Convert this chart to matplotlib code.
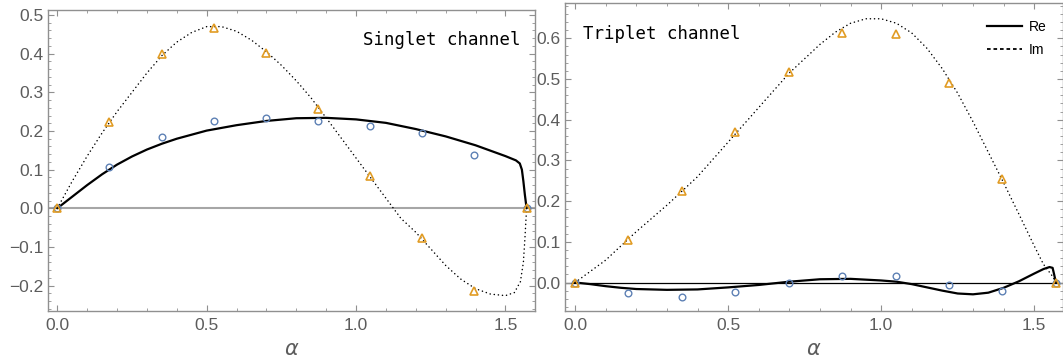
import matplotlib
matplotlib.use("Agg")
import matplotlib.pyplot as plt
from matplotlib.lines import Line2D
from matplotlib.ticker import MultipleLocator, FormatStrFormatter, FuncFormatter

# ==========================================
# data
# ==========================================
alpha_pts = [0.0, 0.1745, 0.3491, 0.5236, 0.6981, 0.8727, 1.0472, 1.2217, 1.3963, 1.5708]

# singlet channel: sample points
singlet_re_pts = [0.0, 0.106, 0.185, 0.226, 0.234, 0.226, 0.213, 0.195, 0.137, 0.0]
singlet_im_pts = [0.0, 0.224, 0.398, 0.467, 0.403, 0.256, 0.084, -0.077, -0.214, 0.0]

# singlet channel: curves
singlet_re_x = [0.0, 0.05, 0.1, 0.15, 0.2, 0.25, 0.3, 0.35, 0.4, 0.5, 0.6, 0.7, 0.8, 0.9,
                1.0, 1.1, 1.2, 1.3, 1.4, 1.5, 1.535, 1.548, 1.555, 1.56, 1.565, 1.5708]
singlet_re_y = [0.0, 0.030, 0.060, 0.088, 0.113, 0.134, 0.152, 0.167, 0.180, 0.201, 0.215, 0.226, 0.233, 0.234,
                0.230, 0.221, 0.205, 0.186, 0.163, 0.135, 0.124, 0.116, 0.100, 0.070, 0.035, 0.0]
singlet_im_x = [0.0, 0.05, 0.1, 0.15, 0.2, 0.25, 0.3, 0.35, 0.4, 0.45, 0.5, 0.55, 0.6, 0.65, 0.7, 0.75,
                0.8, 0.85, 0.9, 0.95, 1.0, 1.05, 1.1, 1.15, 1.2, 1.25, 1.3, 1.35, 1.4, 1.45, 1.5,
                1.53, 1.55, 1.56, 1.565, 1.5708]
singlet_im_y = [0.0, 0.07, 0.135, 0.195, 0.25, 0.30, 0.35, 0.395, 0.43, 0.455, 0.47, 0.47, 0.458, 0.435, 0.405, 0.37,
                0.33, 0.285, 0.234, 0.182, 0.13, 0.078, 0.026, -0.026, -0.062, -0.105, -0.148, -0.183, -0.208, -0.222, -0.226,
                -0.218, -0.19, -0.14, -0.08, 0.0]

# triplet channel: sample points
triplet_re_pts = [0.0, -0.026, -0.035, -0.023, -0.001, 0.017, 0.016, -0.005, -0.021, 0.0]
triplet_im_pts = [0.0, 0.105, 0.225, 0.370, 0.517, 0.614, 0.611, 0.489, 0.255, 0.0]

# triplet channel: curves
triplet_re_x = [0.0, 0.05, 0.1, 0.15, 0.2, 0.3, 0.4, 0.5, 0.6, 0.7, 0.8, 0.9, 1.0, 1.05, 1.1, 1.15,
                1.2, 1.25, 1.3, 1.35, 1.4, 1.45, 1.5, 1.53, 1.55, 1.56, 1.565, 1.5708]
triplet_re_y = [0.0, -0.004, -0.009, -0.013, -0.016, -0.018, -0.017, -0.012, -0.006, 0.002, 0.008, 0.009, 0.005, 0.002, -0.004, -0.012,
                -0.020, -0.027, -0.029, -0.025, -0.013, 0.003, 0.022, 0.033, 0.038, 0.036, 0.020, 0.0]
triplet_im_x = [0.0, 0.1, 0.2, 0.3, 0.4, 0.5, 0.6, 0.7, 0.8, 0.85, 0.9, 0.95, 1.0, 1.05, 1.1, 1.15,
                1.2, 1.25, 1.3, 1.35, 1.4, 1.45, 1.5, 1.53, 1.55, 1.56, 1.5708]
triplet_im_y = [0.0, 0.055, 0.125, 0.19, 0.26, 0.345, 0.43, 0.515, 0.585, 0.615, 0.637, 0.648, 0.648, 0.637, 0.613, 0.575,
                0.525, 0.465, 0.395, 0.32, 0.245, 0.168, 0.09, 0.045, 0.025, 0.015, 0.0]

BLUE = '#5e81b5'
ORANGE = '#e19c24'
FRAME = '#909090'
LABEL = '#5c5c5c'

plt.rcParams['font.family'] = ['Liberation Sans', 'DejaVu Sans']


def style_frame(ax):
    """Mathematica-like frame: gray spines, inward ticks on all sides"""
    for s in ax.spines.values():
        s.set_color(FRAME)
        s.set_linewidth(1.0)
    ax.xaxis.set_major_locator(MultipleLocator(0.5))
    ax.xaxis.set_minor_locator(MultipleLocator(0.1))
    ax.yaxis.set_major_locator(MultipleLocator(0.1))
    ax.yaxis.set_minor_locator(MultipleLocator(0.02))
    ax.xaxis.set_major_formatter(FormatStrFormatter('%.1f'))
    ax.yaxis.set_major_formatter(FuncFormatter(
        lambda v, p: ('\u2212%.1f' % abs(v)) if v < -1e-9 else '%.1f' % abs(v)))
    ax.tick_params(which='both', direction='in', top=True, right=True,
                   color=FRAME, labelcolor=LABEL, labelsize=12.5)
    ax.tick_params(axis='y', pad=3)
    ax.tick_params(axis='x', pad=5)
    ax.tick_params(which='major', length=4, width=0.8)
    ax.tick_params(which='minor', length=2.2, width=0.6)
    ax.set_xlabel(r'$\alpha$', color=LABEL, fontsize=15, labelpad=5)


def draw_panel(ax, re_x, re_y, im_x, im_y, re_pts, im_pts):
    ax.plot(re_x, re_y, color='black', lw=1.6, solid_capstyle='round',
            solid_joinstyle='round', zorder=3)
    ax.plot(im_x, im_y, color='black', lw=1.1, linestyle=(0, (0.1, 2.6)),
            dash_capstyle='round', zorder=3)
    ax.plot(alpha_pts, re_pts, linestyle='none', marker='o', ms=4.8, mfc='none',
            mec=BLUE, mew=1.0, zorder=4)
    ax.plot(alpha_pts, im_pts, linestyle='none', marker='^', ms=5.8, mfc='none',
            mec=ORANGE, mew=1.2, zorder=5)


fig = plt.figure(figsize=(10.63, 3.64), dpi=100)

# ---- singlet ----
ax1 = fig.add_axes([0.0449, 0.1464, 0.4587, 0.8261])
ax1.axhline(0, color='#a6a6a6', lw=1.5, zorder=1)
draw_panel(ax1, singlet_re_x, singlet_re_y, singlet_im_x, singlet_im_y,
           singlet_re_pts, singlet_im_pts)
ax1.set_xlim(-0.032, 1.600)
ax1.set_ylim(-0.265, 0.513)
style_frame(ax1)
ax1.text(0.969, 0.90, 'Singlet channel', transform=ax1.transAxes, ha='right', va='center',
         family='DejaVu Sans Mono', fontsize=12.5, color='black')

# ---- triplet ----
ax2 = fig.add_axes([0.5315, 0.1456, 0.4685, 0.8453])
ax2.axhline(0, color='black', lw=0.9, zorder=1)
draw_panel(ax2, triplet_re_x, triplet_re_y, triplet_im_x, triplet_im_y,
           triplet_re_pts, triplet_im_pts)
ax2.set_xlim(-0.033, 1.594)
ax2.set_ylim(-0.07, 0.686)
style_frame(ax2)
ax2.text(0.0355, 0.90, 'Triplet channel', transform=ax2.transAxes, ha='left', va='center',
         family='DejaVu Sans Mono', fontsize=12.5, color='black')

handles = [Line2D([], [], color='black', lw=1.6),
           Line2D([], [], color='black', lw=1.3, linestyle=(0, (2, 1.6)))]
ax2.legend(handles, ['Re', 'Im'], loc='upper left', bbox_to_anchor=(0.847, 0.945),
           frameon=False, fontsize=10, handlelength=2.5, handletextpad=0.5,
           labelspacing=0.6, borderaxespad=0.0, borderpad=0.0)

fig.savefig('out.png', dpi=100)
